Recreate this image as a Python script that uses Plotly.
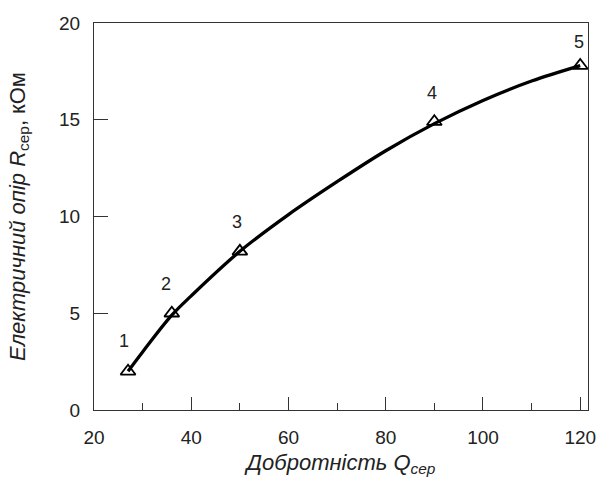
import plotly.graph_objects as go

# measured points
q_points = [27, 36, 50, 90, 120]
r_points = [2.0, 5.0, 8.2, 14.9, 17.8]
point_labels = ["1", "2", "3", "4", "5"]

# fitted curve
q_curve = [27, 30, 36, 40, 50, 60, 70, 80, 90, 100, 110, 120]
r_curve = [2.0, 3.0, 4.9, 5.9, 8.2, 10.1, 11.8, 13.4, 14.8, 16.0, 17.0, 17.8]

x_ticks = [20, 40, 60, 80, 100, 120]
x_minor = [30, 50, 70, 90, 110]
y_ticks = [0, 5, 10, 15, 20]

fig = go.Figure()
fig.add_trace(go.Scatter(x=q_curve, y=r_curve, mode="lines",
                         line=dict(color="black", width=3.3, shape="spline"),
                         showlegend=False, hoverinfo="skip"))
fig.add_trace(go.Scatter(x=q_points, y=r_points, mode="markers",
                         marker=dict(symbol="triangle-up-open", size=13,
                                     color="black", line=dict(width=1.8, color="black")),
                         showlegend=False))

label_dx = [-0.9, -1.2, -0.6, -0.5, -0.3]
label_dy = [1.55, 1.5, 1.5, 1.5, 1.2]
for q, r, t, dx, dy in zip(q_points, r_points, point_labels, label_dx, label_dy):
    fig.add_annotation(x=q + dx, y=r + dy, text=t, showarrow=False,
                       font=dict(size=18, color="#222", family="Liberation Sans, Arial"))

fig.update_layout(
    width=604, height=490,
    margin=dict(l=94, r=8, t=23, b=80),
    plot_bgcolor="white", paper_bgcolor="white",
    font=dict(family="Liberation Sans, Arial", size=19, color="#222"),
    xaxis=dict(range=[20, 121.6], tickvals=x_ticks, ticks="inside", ticklen=13,
               tickwidth=1, tickcolor="#333", showline=True, linecolor="#333",
               linewidth=1, mirror=True, showgrid=False, zeroline=False,
               ticklabelstandoff=10, ticklabeloverflow="allow",
               minor=dict(tickvals=x_minor, ticks="inside", ticklen=7,
                          tickcolor="#333", tickwidth=1, showgrid=False),
               title=dict(text="<i>Добротність Q<sub>сер</sub></i>", standoff=7,
                          font=dict(size=22))),
    yaxis=dict(range=[0, 20], tickvals=y_ticks, ticks="inside", ticklen=14,
               tickwidth=1, tickcolor="#333", showline=True, linecolor="#333",
               linewidth=1, mirror=True, showgrid=False, zeroline=False,
               ticklabelstandoff=9, ticklabeloverflow="allow",
               title=dict(text="<i>Електричний опір R</i><sub>сер</sub>, кОм", standoff=27,
                          font=dict(size=22))),
)

fig.write_html("out.html")
